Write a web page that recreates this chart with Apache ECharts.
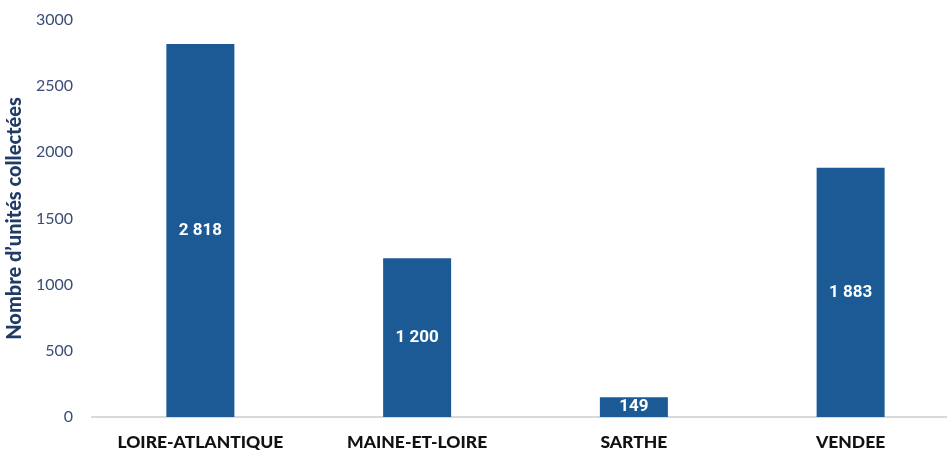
<!DOCTYPE html>
<html>
<head>
<meta charset="utf-8">
<script src="https://cdn.jsdelivr.net/npm/echarts@6/dist/echarts.min.js"></script>
<style>html,body{margin:0;padding:0;background:#fff}#c{width:947px;height:450px}</style>
</head>
<body>
<div id="c"></div>
<script>
var categories = ['LOIRE-ATLANTIQUE', 'MAINE-ET-LOIRE', 'SARTHE', 'VENDEE'];
var values = [2818, 1200, 149, 1883];
var yAxisTitle = "Nombre d\u2019unités collectées";

function fmt(v) {
  return String(v).replace(/\B(?=(\d{3})+(?!\d))/g, ' ');
}

var chart = echarts.init(document.getElementById('c'), null, {renderer: 'canvas'});
chart.setOption({
  animation: false,
  backgroundColor: '#ffffff',
  grid: {left: 92, right: -12, top: 20, bottom: 33, outerBoundsMode: 'none', containLabel: false},
  xAxis: {
    type: 'category',
    data: categories,
    axisLine: {show: true, lineStyle: {color: '#d9d9d9', width: 2}},
    axisTick: {show: false},
    axisLabel: {
      color: '#111111', fontFamily: 'Lato', fontWeight: 900, fontSize: 17.5, margin: 16
    }
  },
  yAxis: {
    type: 'value',
    min: 0, max: 3000, interval: 500,
    name: yAxisTitle,
    nameLocation: 'middle',
    nameGap: 61,
    nameRotate: 90,
    nameTextStyle: {color: '#1f3b66', fontFamily: 'Lato', fontWeight: 900, fontSize: 20},
    axisLine: {show: false},
    axisTick: {show: false},
    splitLine: {show: false},
    axisLabel: {
      color: '#3a4d78', fontFamily: 'Lato', fontSize: 16, margin: 19,
      formatter: function (v) { return String(v); }
    }
  },
  series: [{
    type: 'bar',
    data: values,
    barWidth: 68,
    itemStyle: {color: '#1b5a95'},
    label: {
      show: true,
      position: 'inside',
      color: '#ffffff',
      fontFamily: 'Roboto',
      fontWeight: 'bold',
      fontSize: 17,
      formatter: function (p) { return fmt(p.value); }
    }
  }]
});
</script>
</body>
</html>
